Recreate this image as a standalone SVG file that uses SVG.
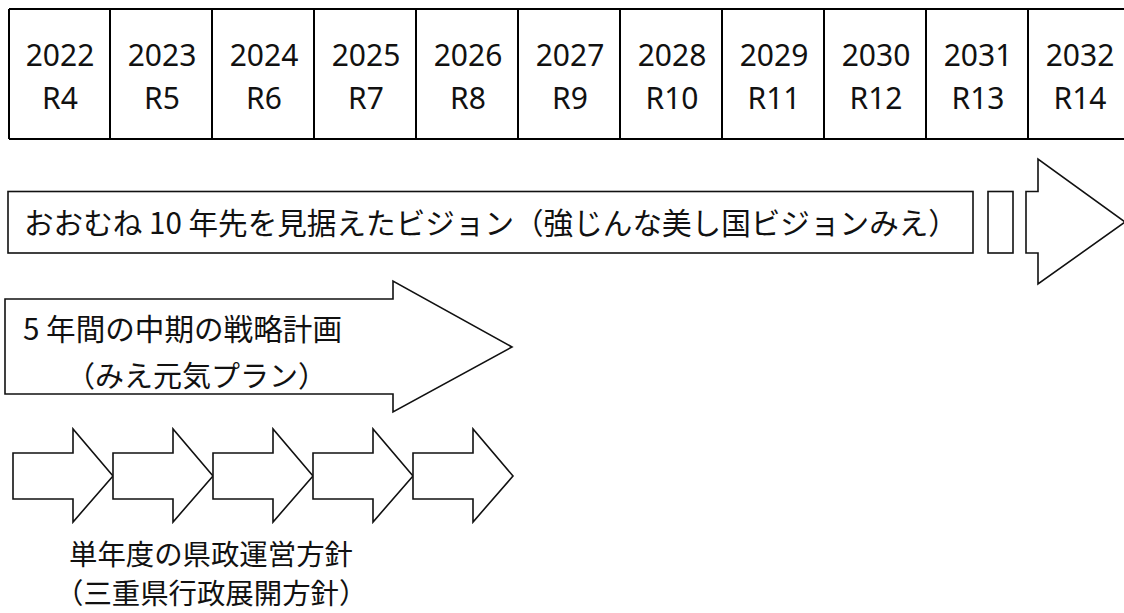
<svg xmlns="http://www.w3.org/2000/svg" width="1124" height="613" viewBox="0 0 1124 613">
<style>
.grid{stroke:#000;stroke-width:2;fill:none}
.yr{font-family:"Noto Sans","Liberation Sans",sans-serif;font-size:30px;fill:#111;text-anchor:middle}
.jp{font-family:"Noto Sans CJK JP","Noto Sans",sans-serif;fill:#111}
.shape{fill:#fff;stroke:#111;stroke-width:1.6;stroke-linejoin:miter}
</style>
<rect width="1124" height="613" fill="#fff"/>
<g id="timeline">
<path class="grid" d="M9,9H1130M9,139H1130M9,9V139M110,9V139M212,9V139M314,9V139M416,9V139M518,9V139M620,9V139M722,9V139M824,9V139M926,9V139M1028,9V139"/>
<g class="yr">
<text x="60" y="66">2022</text><text x="60" y="109">R4</text>
<text x="162" y="66">2023</text><text x="162" y="109">R5</text>
<text x="264" y="66">2024</text><text x="264" y="109">R6</text>
<text x="366" y="66">2025</text><text x="366" y="109">R7</text>
<text x="468" y="66">2026</text><text x="468" y="109">R8</text>
<text x="570" y="66">2027</text><text x="570" y="109">R9</text>
<text x="672" y="66">2028</text><text x="672" y="109">R10</text>
<text x="774" y="66">2029</text><text x="774" y="109">R11</text>
<text x="876" y="66">2030</text><text x="876" y="109">R12</text>
<text x="978" y="66">2031</text><text x="978" y="109">R13</text>
<text x="1080" y="66">2032</text><text x="1080" y="109">R14</text>
</g>
</g>
<g id="vision">
<rect class="shape" x="8" y="191.5" width="965" height="61.5"/>
<text class="jp" x="24" y="234" font-size="29.6">おおむね 10 年先を見据えたビジョン（強じんな美し国ビジョンみえ）</text>
<rect class="shape" x="988" y="191.5" width="25" height="61.5"/>
<path class="shape" d="M1026,191.5H1038V159L1125,222L1038,284V253H1026Z"/>
</g>
<g id="midterm">
<path class="shape" d="M5,299H393V281L512,347L393,412V394H5Z"/>
<text class="jp" x="23" y="340" font-size="29.6">5 年間の中期の戦略計画</text>
<text class="jp" x="66" y="387" font-size="29">（みえ元気プラン）</text>
</g>
<g id="annual">
<path class="shape" d="M13,453H73V429L113,476L73,522V499H13Z"/>
<path class="shape" d="M113,453H173V429L213,476L173,522V499H113Z"/>
<path class="shape" d="M213,453H273V429L313,476L273,522V499H213Z"/>
<path class="shape" d="M313,453H373V429L413,476L373,522V499H313Z"/>
<path class="shape" d="M413,453H473V429L513,476L473,522V499H413Z"/>
<text class="jp" x="69" y="565" font-size="28.4">単年度の県政運営方針</text>
<text class="jp" x="55" y="604" font-size="28.4">（三重県行政展開方針）</text>
</g>
</svg>
